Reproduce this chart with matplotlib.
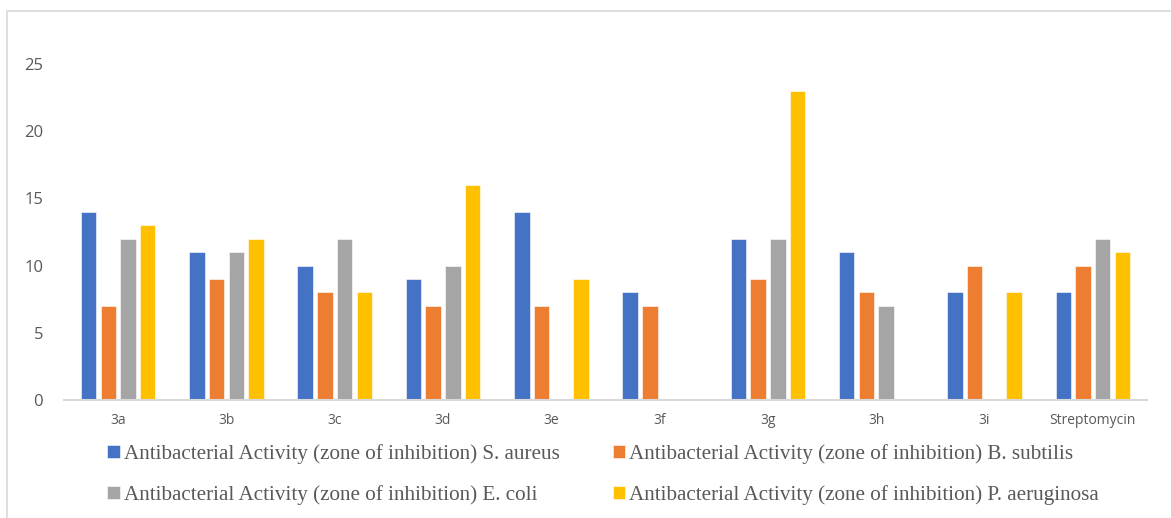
import numpy as np
import matplotlib.pyplot as plt
from matplotlib.patches import Rectangle

categories = ['3a', '3b', '3c', '3d', '3e', '3f', '3g', '3h', '3i', 'Streptomycin']
s_aureus = [14, 11, 10, 9, 14, 8, 12, 11, 8, 8]
b_subtilis = [7, 9, 8, 7, 7, 7, 9, 8, 10, 10]
e_coli = [12, 11, 12, 10, 0, 0, 12, 7, 0, 12]
p_aeruginosa = [13, 12, 8, 16, 9, 0, 23, 0, 8, 11]

series_names = [
    'Antibacterial Activity (zone of inhibition) S. aureus',
    'Antibacterial Activity (zone of inhibition) B. subtilis',
    'Antibacterial Activity (zone of inhibition) E. coli',
    'Antibacterial Activity (zone of inhibition) P. aeruginosa',
]
series_values = [s_aureus, b_subtilis, e_coli, p_aeruginosa]
colors = ['#4472C4', '#ED7D31', '#A5A5A5', '#FFC000']

W, H = 1171, 518
fig = plt.figure(figsize=(W / 100, H / 100), dpi=100)

# light grey chart-area border (runs off right and bottom edges)
fig.patches.append(Rectangle((7 / W, -0.1), 1.2, 1 - 11 / H + 0.1,
                             transform=fig.transFigure, fill=False,
                             edgecolor='#D9D9D9', linewidth=1.2))

# axes placed so 0 sits at y=400 px and 25 at y=64 px
ax = fig.add_axes([64 / W, 1 - 400 / H, (1147 - 64) / W, (400 - 64) / H])

x = np.arange(len(categories))
bar_w = 0.143
step = 0.182
offsets = (np.arange(4) - 1.5) * step
handles = []
for off, vals, col, name in zip(offsets, series_values, colors, series_names):
    h = ax.bar(x + off, vals, width=bar_w, color=col, label=name,
               edgecolor='white', linewidth=0.4, zorder=2)
    handles.append(h)

ax.set_xlim(-0.5, len(categories) - 0.5)
ax.set_ylim(0, 25)
ax.set_yticks([0, 5, 10, 15, 20, 25])
ax.set_xticks(x)
ax.set_xticklabels(categories)

for side in ['top', 'right', 'left']:
    ax.spines[side].set_visible(False)
ax.spines['bottom'].set_color('#D9D9D9')
ax.spines['bottom'].set_linewidth(1.5)
ax.tick_params(axis='both', length=0, colors='#595959')
ax.tick_params(axis='y', labelsize=12, pad=15)
ax.tick_params(axis='x', labelsize=10, pad=9)
for lbl in ax.get_xticklabels() + ax.get_yticklabels():
    lbl.set_fontfamily('Open Sans')

# legend fills row by row: S. aureus, B. subtilis / E. coli, P. aeruginosa
order = [0, 2, 1, 3]
leg = fig.legend([handles[i] for i in order], [series_names[i] for i in order],
                 loc='upper left', ncol=2,
                 bbox_to_anchor=(88 / W, 1 - 425 / H), frameon=False,
                 prop={'family': 'Liberation Serif', 'size': 15.2},
                 handlelength=0.6, handleheight=0.6, handletextpad=0.2,
                 columnspacing=2.5, labelspacing=1.0)
for t in leg.get_texts():
    t.set_color('#595959')

fig.savefig('out.png', dpi=100)
